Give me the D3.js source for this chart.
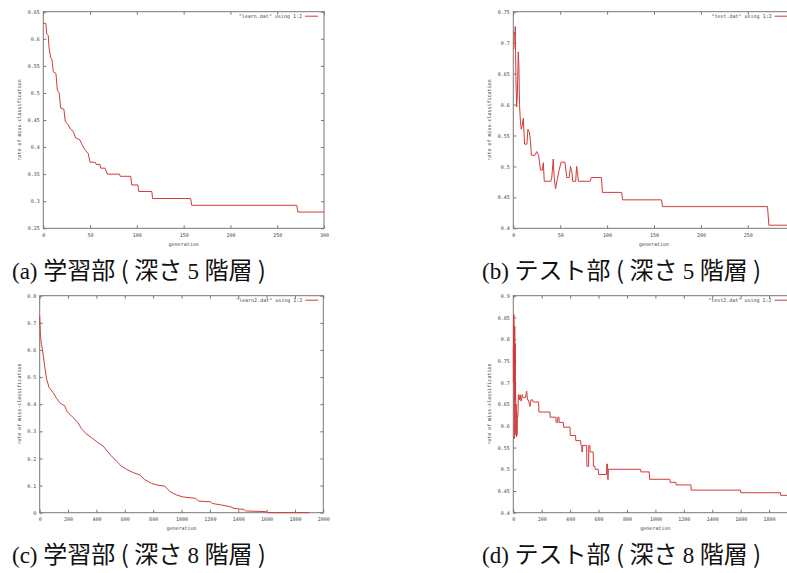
<!DOCTYPE html>
<html>
<head>
<meta charset="utf-8">
<script src="https://cdn.jsdelivr.net/npm/d3@7"></script>
<style>
  body { margin: 0; background: #fff; }
  svg { display: block; }
  text { white-space: pre; }
</style>
</head>
<body>
<svg id="chart"></svg>
<script>
const W = 787, H = 573;

// [generation, rate of miss-classification]
const learn5 = [[0,0.629],[2.8,0.628],[3.6,0.609],[5.3,0.606],[6,0.585],[7.8,0.566],[9.3,0.561],[10.7,0.539],
  [13.5,0.536],[15,0.505],[17,0.5],[18.5,0.472],[22,0.47],[23.5,0.447],[26.7,0.441],[29.2,0.433],[32,0.429],
  [34.6,0.417],[39.2,0.413],[41,0.406],[44.5,0.395],[48,0.388],[50,0.372],[55.5,0.372],[56.5,0.368],[60.5,0.368],
  [61.5,0.361],[66,0.361],[68.5,0.35],[81.5,0.35],[82.2,0.346],[93.5,0.346],[94.4,0.33],[101,0.33],[102,0.318],
  [116,0.318],[116.8,0.305],[157.5,0.305],[158.5,0.2925],[271,0.2925],[272,0.28],[300,0.28]];

const test5 = [[0,0.69],[0.7,0.69],[1.1,0.717],[1.8,0.714],[2.1,0.726],[2.8,0.64],[3.6,0.596],[4.3,0.615],
  [5.3,0.685],[6,0.66],[6.6,0.6],[7.5,0.575],[8.5,0.56],[9.5,0.566],[10.7,0.578],[12,0.536],[14.5,0.536],
  [15.6,0.56],[17,0.556],[18.4,0.54],[19.3,0.518],[23,0.518],[25,0.524],[27,0.518],[29,0.494],[31,0.494],
  [32,0.506],[33,0.476],[40,0.476],[41,0.482],[42.6,0.512],[43.6,0.482],[45,0.464],[47,0.48],[49,0.495],
  [51,0.507],[55,0.507],[57,0.482],[59.5,0.482],[61,0.5],[62.5,0.49],[63.3,0.476],[66.5,0.476],[67.5,0.5],
  [68.5,0.49],[69.3,0.476],[82,0.476],[83,0.482],[94,0.482],[95,0.458],[115.5,0.458],[116.5,0.446],
  [158,0.446],[159,0.435],[271,0.435],[272.5,0.405],[300,0.405]];

const learn8 = [[0,0.725],[4.7,0.658],[12,0.62],[19,0.603],[33,0.548],[47,0.496],[66,0.462],[94,0.443],
  [118,0.422],[146,0.403],[176,0.394],[193,0.373],[235,0.351],[270,0.332],[294,0.31],[325,0.292],[365,0.277],
  [412,0.258],[447,0.246],[475,0.228],[506,0.209],[541,0.19],[576,0.172],[612,0.16],[659,0.148],[706,0.139],
  [741,0.122],[788,0.108],[835,0.101],[882,0.098],[918,0.078],[965,0.065],[1012,0.058],[1099,0.053],
  [1122,0.043],[1205,0.04],[1217,0.034],[1276,0.029],[1346,0.022],[1370,0.016],[1440,0.012],[1452,0.0065],
  [1593,0.004],[1616,0],[1900,0]];

const test8 = [[0,0.78],[1,0.7],[2,0.8],[3,0.72],[4,0.857],[5,0.76],[6,0.83],[7,0.57],[8,0.79],[9,0.7],
  [10,0.83],[11,0.66],[12,0.77],[13,0.72],[14,0.79],[15,0.66],[16,0.7],[18,0.58],[20,0.65],[22,0.575],
  [24,0.63],[26,0.578],[28,0.62],[32,0.62],[36,0.672],[42,0.66],[48,0.672],[55,0.657],[63,0.672],[70,0.665],
  [85,0.665],[94,0.68],[100,0.66],[106,0.66],[112,0.652],[118,0.645],[124,0.66],[135,0.66],[141,0.655],
  [178,0.655],[180,0.632],[258,0.632],[260,0.62],[300,0.62],[302,0.608],[312,0.608],[313,0.62],[321,0.62],
  [323,0.608],[352,0.608],[354,0.597],[399,0.597],[401,0.578],[438,0.578],[440,0.566],[474,0.566],
  [476,0.555],[482,0.555],[483,0.54],[487,0.54],[488,0.555],[516,0.555],[518,0.507],[530,0.507],[531,0.555],
  [539,0.555],[540,0.54],[562,0.54],[564,0.507],[574,0.507],[576,0.5],[598,0.5],[600,0.488],[656,0.488],
  [658,0.512],[663,0.512],[666,0.476],[669,0.5],[896,0.5],[898,0.494],[957,0.494],[959,0.477],[1102,0.477],
  [1104,0.47],[1144,0.47],[1146,0.464],[1250,0.464],[1252,0.452],[1599,0.452],[1601,0.446],[1880,0.446],
  [1882,0.44],[1930,0.44]];

const xTicks300 = [0, 50, 100, 150, 200, 250, 300];
const xTicks2000 = [0, 200, 400, 600, 800, 1000, 1200, 1400, 1600, 1800, 2000];
const yTicksA = [0.25, 0.3, 0.35, 0.4, 0.45, 0.5, 0.55, 0.6, 0.65];
const yTicksB = [0.4, 0.45, 0.5, 0.55, 0.6, 0.65, 0.7, 0.75];
const yTicksC = [0, 0.1, 0.2, 0.3, 0.4, 0.5, 0.6, 0.7, 0.8];
const yTicksD = [0.4, 0.45, 0.5, 0.55, 0.6, 0.65, 0.7, 0.75, 0.8, 0.85, 0.9];

const legendLabels = ['"learn.dat" using 1:2', '"test.dat" using 1:2', '"learn2.dat" using 1:2', '"test2.dat" using 1:2'];
const captionLetters = ["(a)", "(b)", "(c)", "(d)"];
const captionNames = ["学習部", "テスト部", "学習部", "テスト部"];
const captionDepths = ["5", "5", "8", "8"];

const xTitle = "generation";
const yTitle = "rate of miss-classification";

// frame boxes of the four gnuplot panels (b and d run off the right edge)
const panels = [
  { data: learn5, xTicks: xTicks300, yTicks: yTicksA, left: 43.3, right: 324, top: 11.7, bottom: 228.3, yTitleX: 21, capX: 12, capY: 279, legendDx: 22 },
  { data: test5, xTicks: xTicks300, yTicks: yTicksB, left: 513.3, right: 794.7, top: 11.7, bottom: 228.3, yTitleX: 491, capX: 482, capY: 279, legendDx: 23 },
  { data: learn8, xTicks: xTicks2000, yTicks: yTicksC, left: 39.7, right: 323.3, top: 295.7, bottom: 512.7, yTitleX: 21, capX: 12, capY: 563, legendDx: 21 },
  { data: test8, xTicks: xTicks2000, yTicks: yTicksD, left: 513.3, right: 797.5, top: 295.7, bottom: 512.7, yTitleX: 491, capX: 482, capY: 563, legendDx: 26 }
];

const tickFont = "DejaVu Sans Mono";
const cjkFont = "Noto Sans CJK JP";
const serifFont = "Liberation Serif";
const lineColor = "#d23a3a";
const fmt = d => String(+d.toFixed(2));

const svg = d3.select("#chart")
  .attr("width", W)
  .attr("height", H);

panels.forEach((p, i) => {
  const x = d3.scaleLinear()
    .domain([p.xTicks[0], p.xTicks[p.xTicks.length - 1]])
    .range([p.left, p.right]);
  const y = d3.scaleLinear()
    .domain([p.yTicks[0], p.yTicks[p.yTicks.length - 1]])
    .range([p.bottom, p.top]);

  const g = svg.append("g");

  // inward ticks on all four sides, like gnuplot's mirrored tics
  const axes = [
    { axis: d3.axisBottom(x).tickValues(p.xTicks).tickFormat(fmt).tickPadding(5), t: `translate(0,${p.bottom})` },
    { axis: d3.axisTop(x).tickValues(p.xTicks).tickFormat(""), t: `translate(0,${p.top})` },
    { axis: d3.axisLeft(y).tickValues(p.yTicks).tickFormat(fmt).tickPadding(3.5), t: `translate(${p.left},0)` },
    { axis: d3.axisRight(y).tickValues(p.yTicks).tickFormat(""), t: `translate(${p.right},0)` }
  ];
  axes.forEach(a => {
    const ag = g.append("g")
      .attr("transform", a.t)
      .call(a.axis.tickSize(-3).tickSizeOuter(0));
    ag.select(".domain").remove();
    ag.selectAll("line").attr("stroke", "#777");
    ag.selectAll("text")
      .attr("font-family", tickFont)
      .attr("font-size", 5)
      .attr("fill", "#444");
  });
  // labels that fall past the picture's right edge are cut off in the original too
  g.selectAll(".tick").filter(d => x(d) > W - 3).select("text").remove();

  g.append("rect")
    .attr("x", p.left)
    .attr("y", p.top)
    .attr("width", p.right - p.left)
    .attr("height", p.bottom - p.top)
    .attr("fill", "none")
    .attr("stroke", "#777")
    .attr("stroke-width", 1);

  // data line
  const line = d3.line()
    .x(d => x(d[0]))
    .y(d => y(d[1]));

  g.append("path")
    .datum(p.data)
    .attr("d", line)
    .attr("fill", "none")
    .attr("stroke", lineColor)
    .attr("stroke-width", 1)
    .attr("stroke-linejoin", "round");

  // legend
  const ly = p.top + 4.5;
  g.append("text")
    .attr("x", p.right - p.legendDx)
    .attr("y", ly)
    .attr("dy", "0.35em")
    .attr("text-anchor", "end")
    .attr("font-family", tickFont)
    .attr("font-size", 5)
    .attr("fill", "#444")
    .text(legendLabels[i]);
  g.append("line")
    .attr("x1", p.right - p.legendDx + 3)
    .attr("x2", Math.min(p.right - p.legendDx + 16, W))
    .attr("y1", ly)
    .attr("y2", ly)
    .attr("stroke", lineColor)
    .attr("stroke-width", 1);

  // axis titles
  g.append("text")
    .attr("x", (p.left + p.right) / 2)
    .attr("y", p.bottom + 17.5)
    .attr("text-anchor", "middle")
    .attr("font-family", tickFont)
    .attr("font-size", 5)
    .attr("fill", "#444")
    .text(xTitle);

  g.append("text")
    .attr("transform", `translate(${p.yTitleX},${(p.top + p.bottom) / 2}) rotate(-90)`)
    .attr("text-anchor", "middle")
    .attr("font-family", tickFont)
    .attr("font-size", 5)
    .attr("fill", "#444")
    .text(yTitle);

  // caption under the panel
  const cap = svg.append("text")
    .attr("x", p.capX)
    .attr("y", p.capY)
    .attr("fill", "#111");
  cap.append("tspan")
    .attr("font-family", serifFont)
    .attr("font-size", 23)
    .text(captionLetters[i] + " ");
  cap.append("tspan")
    .attr("font-family", cjkFont)
    .attr("font-size", 24)
    .text(captionNames[i] + " ( 深さ ");
  cap.append("tspan")
    .attr("font-family", serifFont)
    .attr("font-size", 23)
    .text(captionDepths[i]);
  cap.append("tspan")
    .attr("font-family", cjkFont)
    .attr("font-size", 24)
    .text(" 階層 )");
});
</script>
</body>
</html>
